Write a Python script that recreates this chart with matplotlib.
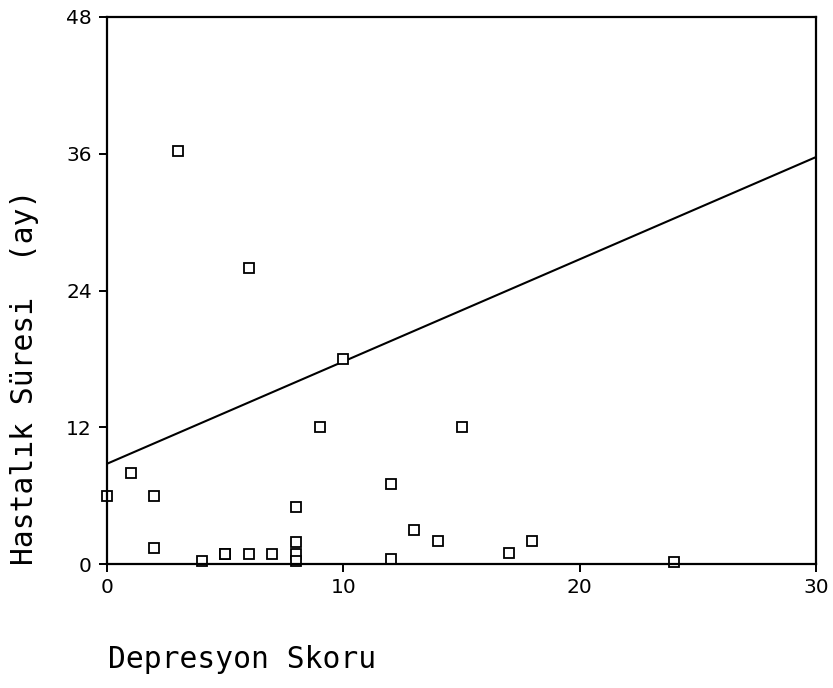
import numpy as np
import matplotlib
matplotlib.use('Agg')
from matplotlib import pyplot as plt

# depresyon skoru vs hastalik suresi (ay)
skor = [0, 1, 2, 2, 3, 4, 5, 5, 6, 6, 7, 8, 8, 8, 8, 9, 10, 12, 12, 13, 14, 15, 17, 18, 24]
sure = [6, 8, 6, 1.4, 36.2, 0.25, 0.9, 0.9, 0.9, 26, 0.9, 5, 1.9, 0.9, 0.3, 12, 18, 7, 0.4, 3, 2, 12, 1, 2, 0.2]

# fit line
b0 = 8.8
b1 = 0.897

xticks = [0, 10, 20, 30]
yticks = [0, 12, 24, 36, 48]

fig = plt.figure(figsize=(8.33, 6.88), dpi=100)
ax = fig.add_axes([0.1285, 0.1802, 0.8511, 0.7951])

ax.plot(skor, sure, 's', ms=6.5, mfc='white', mec='black', mew=1.3, ls='none',
        zorder=3, clip_on=False)
xl = np.array([0, 30])
ax.plot(xl, b0 + b1*xl, 'k-', lw=1.5, zorder=2)

ax.set_xlim(0, 30)
ax.set_ylim(0, 48)
ax.set_xticks(xticks)
ax.set_yticks(yticks)
for s in ax.spines.values():
    s.set_linewidth(1.6)
    s.set_zorder(4)
ax.tick_params(direction='out', length=6, width=1.4, labelsize=14.5, pad=4)
ax.tick_params(axis='y', pad=5)

mono = 'DejaVu Sans Mono'
fig.text(108/833, 1 - 660/688, 'Depresyon Skoru', family=mono, fontsize=21.3,
         ha='left', va='center')
fig.text(25/833, 1 - 565/688, 'Hastalık Süresi  (ay)', family=mono, fontsize=21.3,
         rotation=90, ha='center', va='bottom')

fig.savefig('out.png', dpi=100)
